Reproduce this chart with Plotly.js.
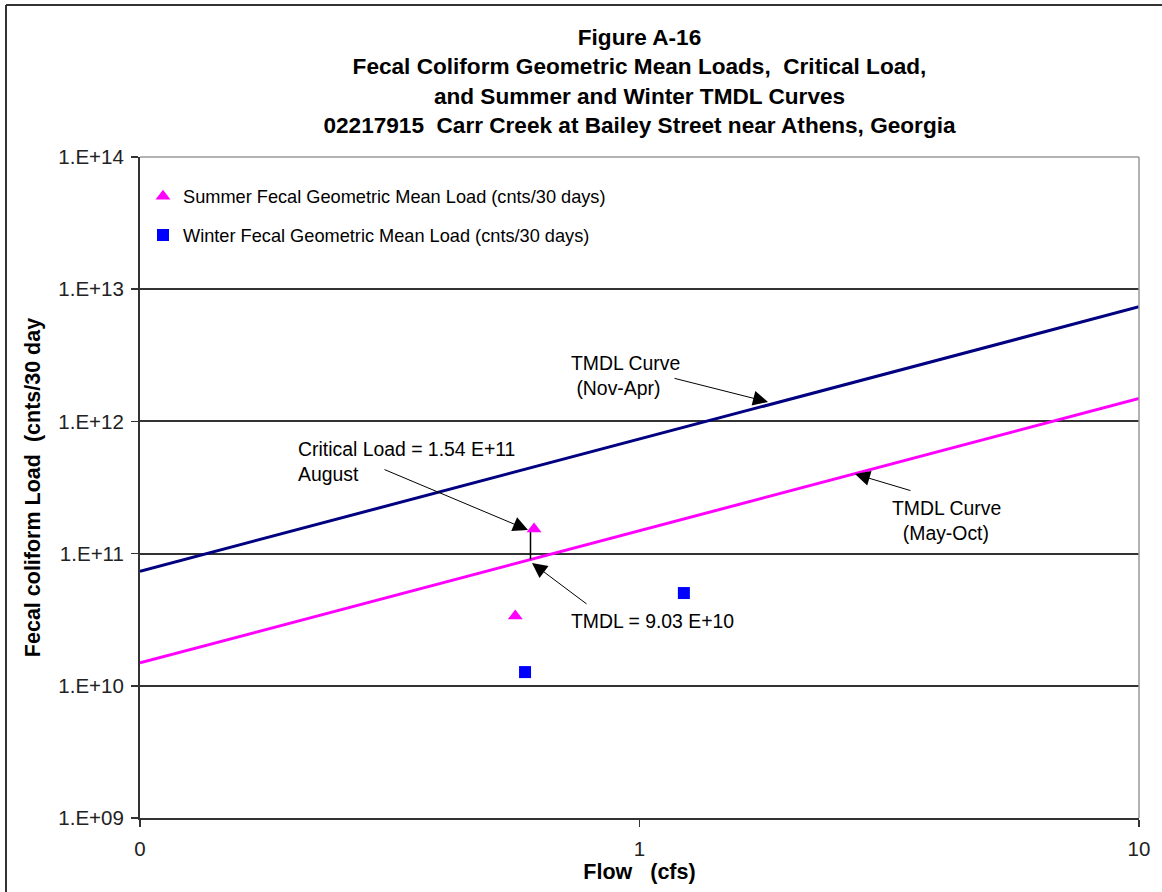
<!DOCTYPE html>
<html>
<head>
<meta charset="utf-8">
<script src="https://cdn.plot.ly/plotly-3.0.1.min.js"></script>
<style>
html,body{margin:0;padding:0;background:#fff;}
#chart{width:1162px;height:892px;}
</style>
</head>
<body>
<div id="chart"></div>
<script>
// ---- data ----
const summerFlow = [0.564, 0.615];
const summerLoad = [3.37e10, 1.535e11];
const winterFlow = [0.590, 1.227];
const winterLoad = [1.27e10, 5.03e10];
const curveFlow = [0.1, 10];
const curveSummerLoad = [1.49e10, 1.49e12];
const curveWinterLoad = [7.36e10, 7.36e12];
const connectorFlow = [0.605, 0.605];
const connectorLoad = [9.03e10, 1.54e11];
const xTickVals = [0.1, 1, 10];
const xTickText = ['0', '1', '10'];
const yTickVals = [1e9, 1e10, 1e11, 1e12, 1e13, 1e14];
const yTickText = ['1.E+09', '1.E+10', '1.E+11', '1.E+12', '1.E+13', '1.E+14'];

const FONT = 'Liberation Sans, Arial, sans-serif';

const traces = [
  {x: curveFlow, y: curveWinterLoad, mode: 'lines', line: {color: '#000080', width: 3}, showlegend: false, hoverinfo: 'skip'},
  {x: curveFlow, y: curveSummerLoad, mode: 'lines', line: {color: '#FF00FF', width: 3}, showlegend: false, hoverinfo: 'skip'},
  {x: connectorFlow, y: connectorLoad, mode: 'lines', line: {color: '#000000', width: 1.5}, showlegend: false, hoverinfo: 'skip'},
  {x: summerFlow, y: summerLoad, mode: 'markers', name: 'Summer Fecal Geometric Mean Load (cnts/30 days)',
   marker: {symbol: 'triangle-up', color: '#FF00FF', size: 13}, legendgroup: 'a'},
  {x: winterFlow, y: winterLoad, mode: 'markers', name: 'Winter Fecal Geometric Mean Load (cnts/30 days)',
   marker: {symbol: 'square', color: '#0000FF', size: 12}, legendgroup: 'b'}
];

function arrow(xl, yl, ax, ay) {
  return {x: xl, y: yl, xref: 'x', yref: 'y', text: '', showarrow: true,
    arrowhead: 2, arrowsize: 3, arrowwidth: 1, arrowcolor: '#000', ax: ax, ay: ay, standoff: 0};
}
function label(xl, yl, text) {
  return {x: xl, y: yl, xref: 'x', yref: 'y', text: text, showarrow: false,
    xanchor: 'left', yanchor: 'middle', align: 'left', font: {family: FONT, size: 19.4, color: '#000'}};
}

const annotations = [
  label(-0.688, 11.70, 'Critical Load = 1.54 E+11<br>August'),
  label(-0.141, 12.351, 'TMDL Curve<br> (Nov-Apr)'),
  label(0.5015, 11.254, 'TMDL Curve<br>  (May-Oct)'),
  label(-0.141, 10.49, 'TMDL = 9.03 E+10'),
  arrow(0.2573, 12.147, -95, -24),
  arrow(0.4314, 11.602, 57, 17),
  arrow(-0.2232, 11.179, -145, -61),
  arrow(-0.2152, 10.929, 56, 42)
];

const L = 140, R = 1139, T = 157, B = 818, W = 1162, H = 892;
const px = v => (v - L) / (R - L);
const py = v => (B - v) / (B - T);

const shapes = [
  {type: 'line', xref: 'paper', yref: 'paper', x0: 0, x1: 1, y0: 1, y1: 1, line: {color: '#999', width: 1.5}, layer: 'above'},
  {type: 'line', xref: 'paper', yref: 'paper', x0: 1, x1: 1, y0: 0, y1: 1, line: {color: '#999', width: 1.5}, layer: 'above'},
  {type: 'line', xref: 'paper', yref: 'paper', x0: px(6), x1: px(W + 10), y0: py(5), y1: py(5), line: {color: '#333', width: 2}},
  {type: 'line', xref: 'paper', yref: 'paper', x0: px(6), x1: px(6), y0: py(5), y1: py(H + 10), line: {color: '#333', width: 2}}
];

const layout = {
  width: W, height: H,
  margin: {l: L, r: W - R, t: T, b: H - B},
  paper_bgcolor: '#fff', plot_bgcolor: '#fff',
  font: {family: FONT, size: 19, color: '#000'},
  title: {
    text: '<b>Figure A-16<br>Fecal Coliform Geometric Mean Loads,  Critical Load,<br>and Summer and Winter TMDL Curves<br>02217915  Carr Creek at Bailey Street near Athens, Georgia</b>',
    font: {family: FONT, size: 22.6, color: '#000'},
    xref: 'paper', x: 0.5, xanchor: 'center', yref: 'container', y: 1 - 45 / H, yanchor: 'top'
  },
  xaxis: {
    type: 'log', range: [-1, 1], tickmode: 'array', tickvals: xTickVals, ticktext: xTickText,
    showgrid: false, zeroline: false, showline: true, linecolor: '#333', linewidth: 2,
    ticks: 'outside', ticklen: 7, tickcolor: '#333', tickwidth: 1.5,
    tickfont: {family: FONT, size: 20.5, color: '#222'}, ticklabelstandoff: 4,
    title: {text: '<b>Flow   (cfs)</b>', font: {family: FONT, size: 21.5, color: '#000'}, standoff: 4}
  },
  yaxis: {
    type: 'log', range: [9, 14], tickmode: 'array', tickvals: yTickVals, ticktext: yTickText,
    showgrid: true, gridcolor: '#333', gridwidth: 2, zeroline: false,
    showline: true, linecolor: '#333', linewidth: 2,
    ticks: 'outside', ticklen: 7, tickcolor: '#333', tickwidth: 1.5,
    tickfont: {family: FONT, size: 20.5, color: '#222'}, ticklabelstandoff: 3,
    title: {text: '<b>Fecal coliform Load  (cnts/30 day</b>', font: {family: FONT, size: 21.5, color: '#000'}, standoff: 12}
  },
  showlegend: true,
  legend: {
    x: 0.003, xanchor: 'left', y: py(178), yanchor: 'top',
    bgcolor: 'rgba(0,0,0,0)', borderwidth: 0, tracegroupgap: 12,
    font: {family: FONT, size: 18.2, color: '#000'}
  },
  annotations: annotations,
  shapes: shapes
};

Plotly.newPlot('chart', traces, layout, {displayModeBar: false, staticPlot: true});
</script>
</body>
</html>
